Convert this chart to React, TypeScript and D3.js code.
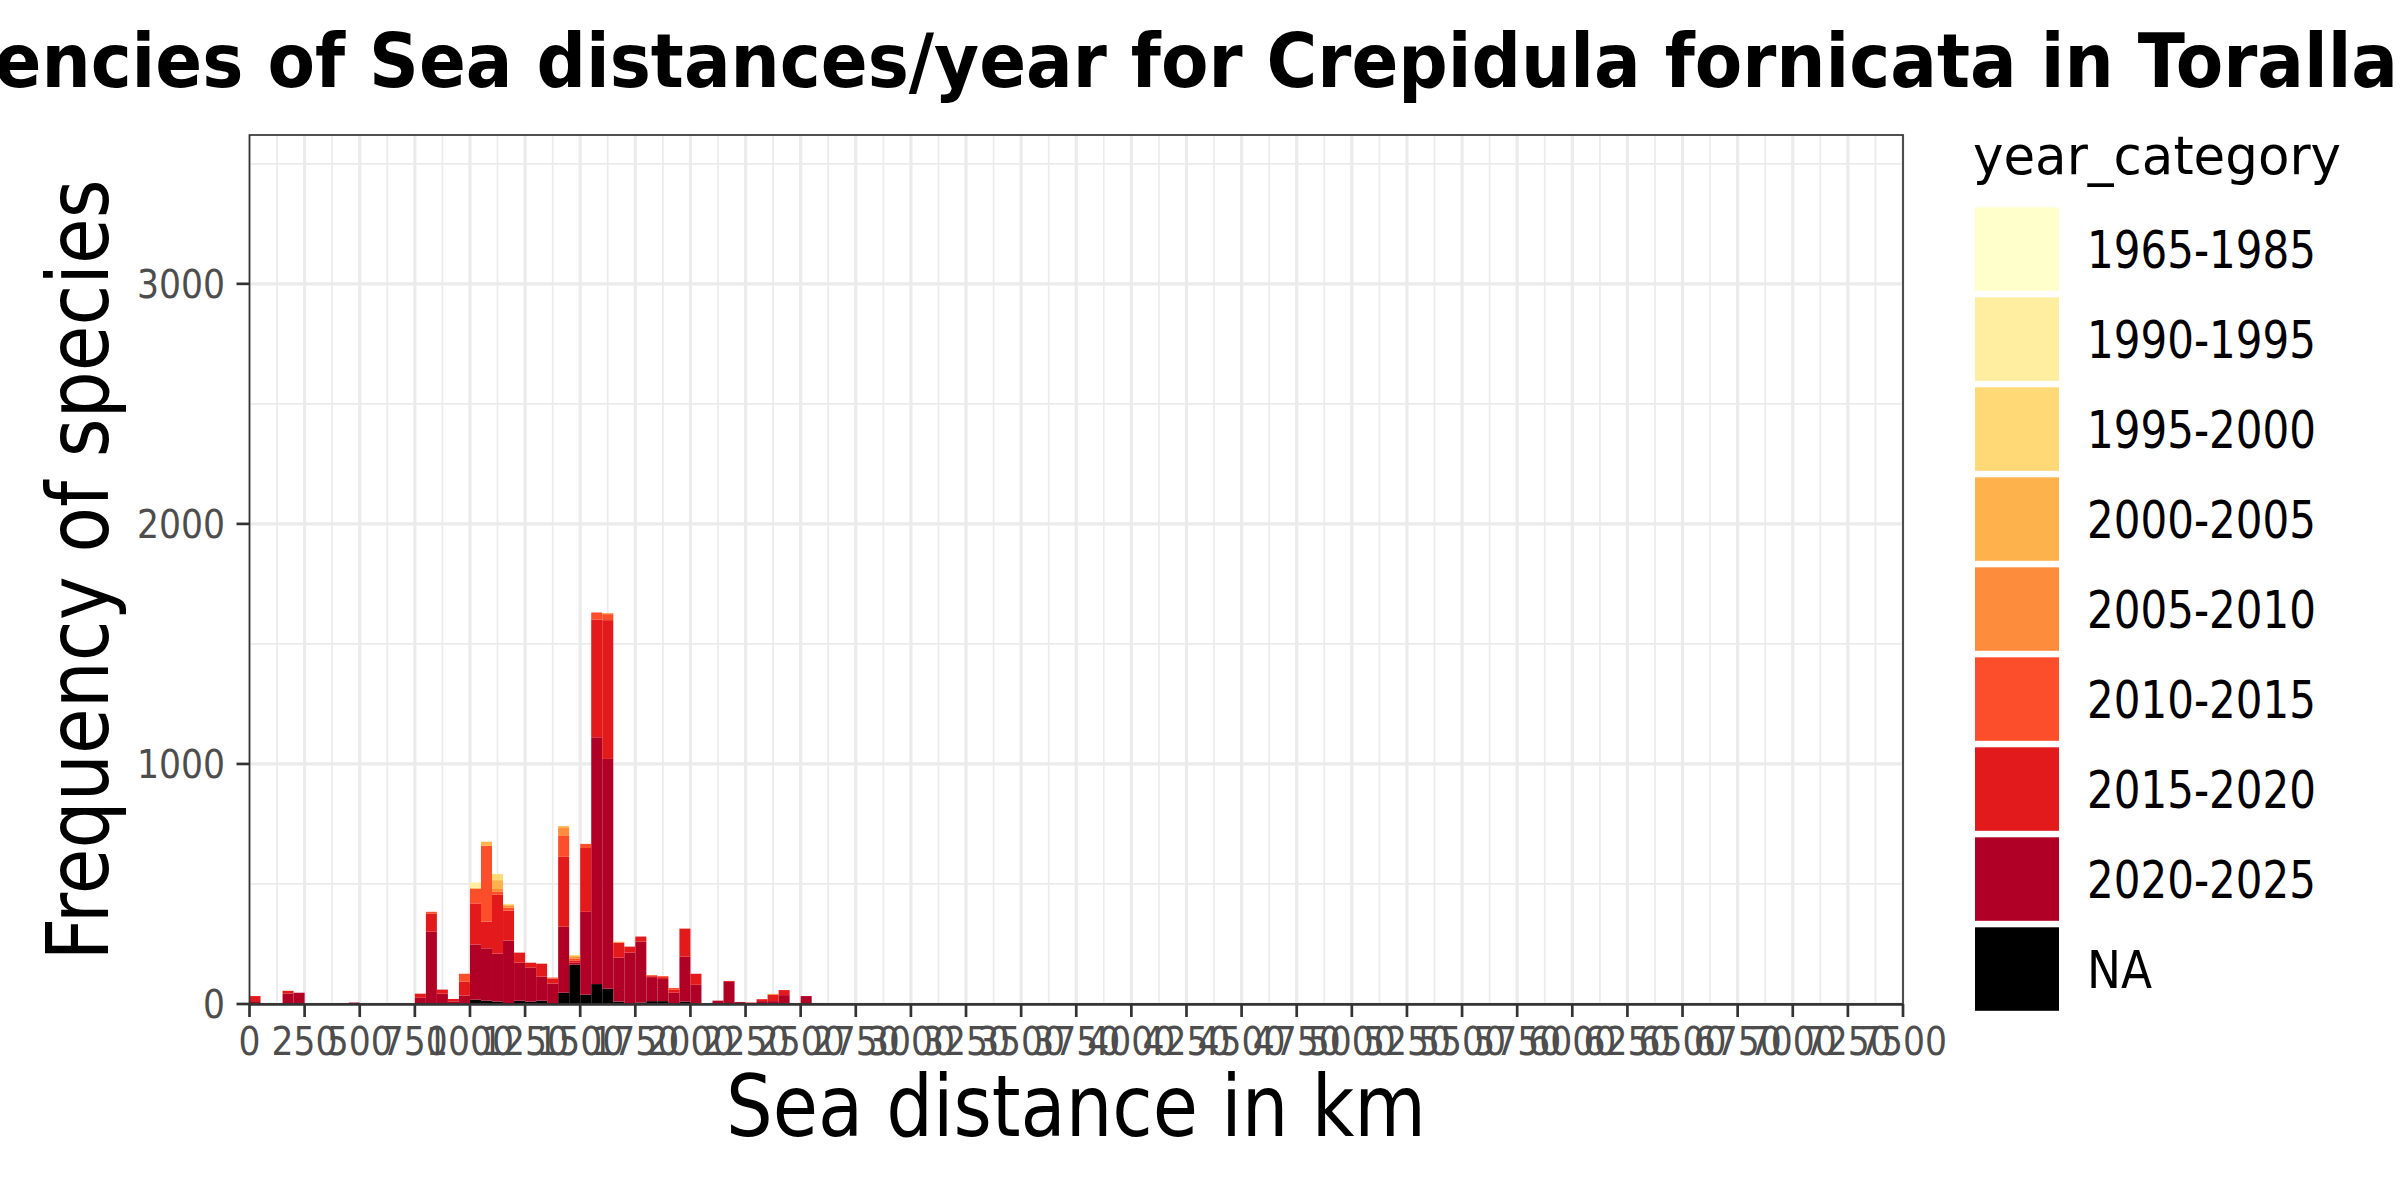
import React, { useRef, useEffect } from "react";
import * as d3 from "d3";

// bin starts (km), binwidth 50
const binStarts = [
  0, 50, 100, 150, 200, 250, 300, 350, 400, 450,
  500, 550, 600, 650, 700, 750, 800, 850, 900, 950,
  1000, 1050, 1100, 1150, 1200, 1250, 1300, 1350, 1400, 1450,
  1500, 1550, 1600, 1650, 1700, 1750, 1800, 1850, 1900, 1950,
  2000, 2050, 2100, 2150, 2200, 2250, 2300, 2350, 2400, 2450,
  2500, 2550,
];
const binWidth = 50;

// counts per year category
const c1965 = [
  0, 0, 0, 0, 0, 0, 0, 0, 0, 0,
  0, 0, 0, 0, 0, 0, 0, 0, 0, 0,
  0, 0, 0, 0, 0, 0, 0, 0, 0, 0,
  0, 0, 0, 0, 0, 0, 0, 0, 0, 0,
  0, 0, 0, 0, 0, 0, 0, 0, 0, 0,
  0, 0,
];
const c1990 = [
  0, 0, 0, 0, 0, 0, 0, 0, 0, 0,
  0, 0, 0, 0, 0, 0, 0, 0, 0, 0,
  22, 0, 0, 0, 0, 0, 0, 0, 0, 0,
  0, 0, 0, 0, 0, 0, 0, 0, 0, 0,
  0, 0, 0, 0, 0, 0, 0, 0, 0, 0,
  0, 0,
];
const c1995 = [
  0, 0, 0, 0, 0, 0, 0, 0, 0, 0,
  0, 0, 0, 0, 0, 0, 0, 0, 0, 0,
  0, 0, 25, 4, 0, 0, 0, 0, 0, 4,
  0, 0, 0, 0, 0, 0, 0, 0, 0, 0,
  0, 0, 0, 0, 0, 0, 0, 0, 0, 0,
  0, 0,
];
const c2000 = [
  0, 0, 0, 0, 0, 0, 0, 0, 0, 0,
  0, 0, 0, 0, 0, 0, 0, 0, 0, 0,
  4, 17, 37, 4, 0, 0, 0, 0, 8, 4,
  0, 0, 0, 0, 0, 0, 0, 0, 0, 0,
  0, 0, 0, 0, 0, 0, 0, 0, 0, 0,
  0, 0,
];
const c2005 = [
  0, 0, 0, 0, 0, 0, 0, 0, 0, 0,
  0, 0, 0, 0, 0, 0, 0, 0, 0, 0,
  0, 0, 12, 8, 0, 0, 0, 0, 33, 8,
  0, 0, 4, 4, 0, 0, 0, 0, 0, 0,
  0, 0, 0, 0, 0, 0, 0, 4, 0, 0,
  0, 0,
];
const c2010 = [
  0, 0, 0, 0, 0, 0, 0, 0, 0, 0,
  0, 0, 0, 0, 0, 0, 8, 0, 0, 33,
  61, 316, 12, 12, 0, 0, 0, 4, 87, 8,
  17, 29, 25, 0, 0, 0, 4, 4, 8, 0,
  0, 0, 0, 0, 0, 0, 0, 0, 0, 0,
  0, 0,
];
const c2015 = [
  21, 0, 0, 11, 0, 0, 0, 0, 0, 0,
  0, 0, 0, 0, 0, 17, 75, 17, 10, 58,
  171, 111, 245, 125, 42, 21, 54, 21, 291, 8,
  266, 491, 578, 62, 25, 21, 4, 8, 12, 117,
  46, 0, 0, 4, 0, 4, 8, 26, 21, 0,
  0, 0,
];
const c2020 = [
  12, 0, 0, 44, 47, 0, 0, 0, 4, 6,
  0, 0, 0, 0, 0, 26, 301, 43, 11, 35,
  230, 218, 200, 264, 158, 141, 100, 85, 275, 8,
  345, 1028, 957, 183, 214, 254, 100, 92, 44, 187,
  80, 0, 14, 92, 8, 2, 12, 12, 37, 0,
  33, 4,
];
const cNA = [
  0, 0, 0, 0, 0, 0, 0, 0, 0, 0,
  0, 0, 0, 0, 0, 0, 0, 0, 0, 0,
  18, 14, 10, 0, 14, 10, 14, 0, 47, 164,
  39, 83, 64, 10, 0, 6, 12, 12, 3, 10,
  0, 0, 0, 0, 0, 0, 0, 0, 0, 0,
  0, 0,
];

const categories = [
  "1965-1985", "1990-1995", "1995-2000", "2000-2005",
  "2005-2010", "2010-2015", "2015-2020", "2020-2025", "NA",
];
const seriesValues = [c1965, c1990, c1995, c2000, c2005, c2010, c2015, c2020, cNA];
const colors = [
  "#FFFFCC", "#FFEDA0", "#FED976", "#FEB24C",
  "#FD8D3C", "#FC4E2A", "#E31A1C", "#B10026", "#000000",
];

const xTicks = [
  0, 250, 500, 750, 1000, 1250, 1500, 1750, 2000, 2250, 2500,
  2750, 3000, 3250, 3500, 3750, 4000, 4250, 4500, 4750, 5000,
  5250, 5500, 5750, 6000, 6250, 6500, 6750, 7000, 7250, 7500,
];
const yTicks = [0, 1000, 2000, 3000];
const yMinor = [500, 1500, 2500, 3500];

const titleText = "Frequencies of Sea distances/year for Crepidula fornicata in Toralla";

export default function App() {
  const svgRef = useRef<SVGSVGElement>(null);

  useEffect(() => {
    if (!svgRef.current) return;
    const svg = d3.select(svgRef.current);
    svg.selectAll("*").remove();

    const width = 2400;
    const height = 1200;
    const panel = { left: 249.5, right: 1903, top: 135, bottom: 1004 };
    const font = "'DejaVu Sans', sans-serif";

    svg.append("rect").attr("width", width).attr("height", height).attr("fill", "#ffffff");

    const xScale = d3.scaleLinear().domain([0, 7500]).range([panel.left, panel.right]);
    const yScale = d3.scaleLinear().domain([0, 3620]).range([panel.bottom, panel.top]);

    // grid
    const grid = svg.append("g");
    const xMinor = xTicks.slice(1).map((v, i) => (v + xTicks[i]) / 2);
    xMinor.forEach(v => {
      grid.append("line")
        .attr("x1", xScale(v)).attr("x2", xScale(v))
        .attr("y1", panel.top).attr("y2", panel.bottom)
        .attr("stroke", "#EBEBEB").attr("stroke-width", 1.7);
    });
    yMinor.forEach(v => {
      grid.append("line")
        .attr("x1", panel.left).attr("x2", panel.right)
        .attr("y1", yScale(v)).attr("y2", yScale(v))
        .attr("stroke", "#EBEBEB").attr("stroke-width", 1.7);
    });
    xTicks.forEach(v => {
      grid.append("line")
        .attr("x1", xScale(v)).attr("x2", xScale(v))
        .attr("y1", panel.top).attr("y2", panel.bottom)
        .attr("stroke", "#EBEBEB").attr("stroke-width", 3.2);
    });
    yTicks.forEach(v => {
      grid.append("line")
        .attr("x1", panel.left).attr("x2", panel.right)
        .attr("y1", yScale(v)).attr("y2", yScale(v))
        .attr("stroke", "#EBEBEB").attr("stroke-width", 3.2);
    });

    // stacked histogram bars (NA at bottom, oldest on top)
    const table = binStarts.map((b, i) => {
      const row: Record<string, number> = { bin: b };
      categories.forEach((c, k) => { row[c] = seriesValues[k][i]; });
      return row;
    });
    const stackKeys = categories.slice().reverse();
    const stacked = d3.stack<Record<string, number>>().keys(stackKeys)(table);

    const bars = svg.append("g");
    stacked.forEach(layer => {
      const color = colors[categories.indexOf(layer.key)];
      bars.selectAll(null)
        .data(layer.filter(d => d[1] - d[0] > 0))
        .enter()
        .append("rect")
        .attr("x", d => xScale(d.data.bin))
        .attr("width", d => xScale(d.data.bin + binWidth) - xScale(d.data.bin))
        .attr("y", d => yScale(d[1]))
        .attr("height", d => yScale(d[0]) - yScale(d[1]))
        .attr("fill", color);
    });

    // panel border
    svg.append("rect")
      .attr("x", panel.left).attr("y", panel.top)
      .attr("width", panel.right - panel.left).attr("height", panel.bottom - panel.top)
      .attr("fill", "none").attr("stroke", "#333333").attr("stroke-width", 1.7);
    svg.append("line")
      .attr("x1", panel.left).attr("x2", panel.right)
      .attr("y1", panel.bottom + 0.5).attr("y2", panel.bottom + 0.5)
      .attr("stroke", "#333333").attr("stroke-width", 2.6);

    // x ticks + labels
    const xAxisG = svg.append("g");
    xTicks.forEach(v => {
      const x = xScale(v);
      xAxisG.append("line")
        .attr("x1", x).attr("x2", x)
        .attr("y1", panel.bottom).attr("y2", panel.bottom + 13)
        .attr("stroke", "#333333").attr("stroke-width", 2.7);
      const label = `${v}`;
      const len = label.length * 22;
      xAxisG.append("text")
        .attr("x", x - len / 2).attr("y", 1055)
        .attr("textLength", len).attr("lengthAdjust", "spacingAndGlyphs")
        .style("font-family", font).style("font-size", "39px")
        .style("fill", "#4D4D4D")
        .text(label);
    });

    // y ticks + labels
    const yAxisG = svg.append("g");
    yTicks.forEach(v => {
      const y = yScale(v);
      yAxisG.append("line")
        .attr("x1", panel.left - 13).attr("x2", panel.left)
        .attr("y1", y).attr("y2", y)
        .attr("stroke", "#333333").attr("stroke-width", 2.7);
      const label = `${v}`;
      const len = label.length * 22;
      yAxisG.append("text")
        .attr("x", 225 - len).attr("y", y + 14)
        .attr("textLength", len).attr("lengthAdjust", "spacingAndGlyphs")
        .style("font-family", font).style("font-size", "39px")
        .style("fill", "#4D4D4D")
        .text(label);
    });

    // axis titles
    svg.append("text")
      .attr("x", 1076 - 350).attr("y", 1136)
      .attr("textLength", 700).attr("lengthAdjust", "spacingAndGlyphs")
      .style("font-family", font).style("font-size", "86px").style("fill", "#000")
      .text("Sea distance in km");

    svg.append("text")
      .attr("transform", `translate(108, ${570 + 390.5}) rotate(-90)`)
      .attr("textLength", 781).attr("lengthAdjust", "spacingAndGlyphs")
      .style("font-family", font).style("font-size", "86px").style("fill", "#000")
      .text("Frequency of species");

    // plot title (wider than the figure, clipped at both sides)
    svg.append("text")
      .attr("x", 2398 - 2626).attr("y", 87)
      .attr("textLength", 2626).attr("lengthAdjust", "spacingAndGlyphs")
      .style("font-family", font).style("font-size", "74px").style("font-weight", "bold")
      .style("fill", "#000")
      .text(titleText);

    // legend
    const legend = svg.append("g");
    legend.append("text")
      .attr("x", 1973).attr("y", 174)
      .attr("textLength", 368).attr("lengthAdjust", "spacingAndGlyphs")
      .style("font-family", font).style("font-size", "54px").style("fill", "#000")
      .text("year_category");

    categories.forEach((c, i) => {
      const top = 207.3 + i * 90;
      legend.append("rect")
        .attr("x", 1975).attr("y", top)
        .attr("width", 84).attr("height", 83.5)
        .attr("fill", colors[i]);
      const len = c === "NA" ? 65 : 229;
      legend.append("text")
        .attr("x", 2087).attr("y", top + 83.5 / 2 + 19)
        .attr("textLength", len).attr("lengthAdjust", "spacingAndGlyphs")
        .style("font-family", font).style("font-size", "52px").style("fill", "#000")
        .text(c);
    });
  }, []);

  return (
    <svg
      ref={svgRef}
      width={2400}
      height={1200}
      style={{ position: "absolute", left: 0, top: 0, display: "block" }}
    />
  );
}
